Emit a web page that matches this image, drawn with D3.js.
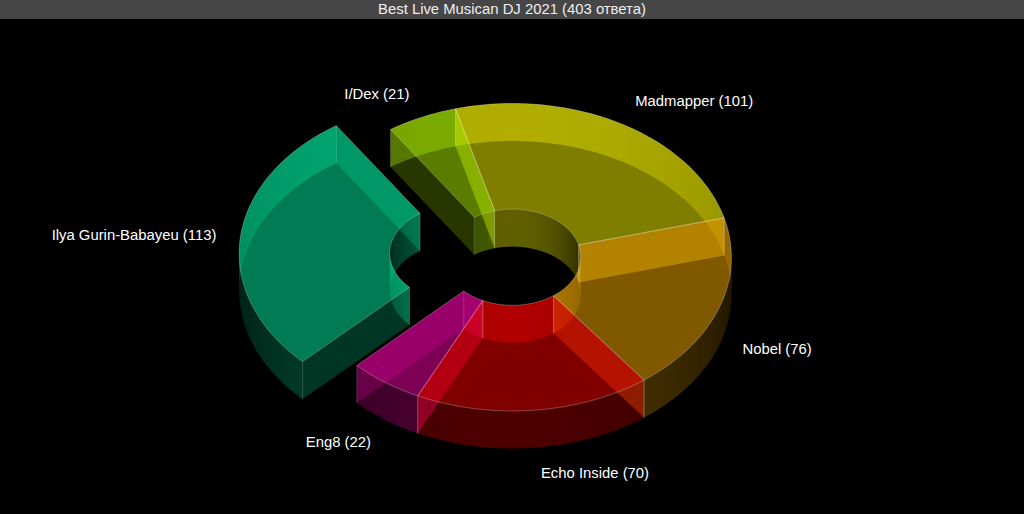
<!DOCTYPE html>
<html><head><meta charset="utf-8">
<script src="https://cdn.jsdelivr.net/npm/d3@7"></script>
<style>html,body{margin:0;padding:0;background:#000;overflow:hidden}
text{font-family:"Liberation Sans",Arial,sans-serif;font-size:14.85px;fill:#fff}</style>
</head><body><svg id="c" width="1024" height="514"></svg>
<script>
const chartTitle = "Best Live Musican DJ 2021 (403 ответа)";
const categories = ["I/Dex","Madmapper","Nobel","Echo Inside","Eng8","Ilya Gurin-Babayeu"];
const values = [21,101,76,70,22,113];
const hues = ["rgb(180,250,0)","rgb(255,252,0)","rgb(255,176,0)","rgb(255,0,0)","rgb(250,0,170)","rgb(0,245,165)"];
const exploded = [0,0,0,0,0,1];

const W=1024,H=514,cx=512.4,cy=257.2,R=219,r0=68.5,tilt=0.702,depth=37.5,pull=54.5;
const deg=Math.PI/180;
const svg=d3.select("#c"),defs=svg.append("defs");
svg.append("rect").attr("width",W).attr("height",H).attr("fill","#000");

const xs=d3.scaleLinear().domain([-1,1]).range([cx-1,cx+1]);
const ys=d3.scaleLinear().domain([-1,1]).range([cy-tilt,cy+tilt]);
const pt=(r,a,z=0)=>[xs(r*Math.sin(a)),ys(-r*Math.cos(a))+z];
const line=d3.line();
const arcPts=(r,a,b,z=0)=>{const n=Math.max(2,Math.ceil(Math.abs(b-a)/(1*deg)));
  return d3.range(n+1).map(i=>pt(r,a+(b-a)*i/n,z));};

const arcs=d3.pie().sort(null).startAngle(-33.8*deg).endAngle(326.2*deg)(values);
const alphaAt=(s,scale)=>scale*(0.17+0.21*Math.pow(Math.max(0,1-s*s),0.75));

function grad(i,r,scale,tag){
  const id=`g${i}${tag}`;
  const g=defs.append("linearGradient").attr("id",id).attr("gradientUnits","userSpaceOnUse")
    .attr("x1",cx-r).attr("x2",cx+r).attr("y1",0).attr("y2",0);
  d3.range(21).forEach(k=>{const s=-1+k/10;
    g.append("stop").attr("offset",k/20).attr("stop-color",hues[i]).attr("stop-opacity",alphaAt(s,scale));});
  return `url(#${id})`;
}
const layers={back:svg.append("g"),front:svg.append("g"),top:svg.append("g"),edge:svg.append("g")};
const shift=d=>{const m=(d.startAngle+d.endAngle)/2,e=exploded[d.index]*pull;
  return `translate(${e*Math.sin(m)},${-e*tilt*Math.cos(m)})`;};
const wall=(pts)=>line(pts.concat(pts.slice().reverse().map(p=>[p[0],p[1]+depth])))+"Z";

arcs.forEach(d=>{
  const i=d.index,a0=d.startAngle,a1=d.endAngle,t=shift(d);
  const cuts=[a0,...[90*deg,270*deg].filter(c=>c>a0&&c<a1),a1];
  d3.pairs(cuts).forEach(([a,b])=>{
    const m=(a+b)/2,farSide=Math.cos(m)>0;
    layers[farSide?"back":"front"].append("path").attr("transform",t)
      .attr("d",wall(arcPts(R,a,b))).attr("fill",grad(i,R,farSide?1:0.8,`o${farSide?1:0}`+Math.round(a*100)));
    layers[farSide?"front":"back"].append("path").attr("transform",t)
      .attr("d",wall(arcPts(r0,a,b))).attr("fill",grad(i,r0,1,`i${farSide?1:0}`+Math.round(a*100)));
  });
  [[a0,-1],[a1,1]].forEach(([a,sgn])=>{
    const facing=sgn*Math.sin(a)>0;
    layers[facing?"front":"back"].append("path").attr("transform",t)
      .attr("d",wall([pt(r0,a),pt(R,a)])).attr("fill",hues[i]).attr("fill-opacity",facing?0.22:0.235);
    [r0,R].forEach(r=>{const p=pt(r,a);
      layers.edge.append("path").attr("transform",t).attr("d",line([p,[p[0],p[1]+depth]]))
        .attr("fill","none").attr("stroke","#fff").attr("stroke-opacity",0.17);});
  });
  const ring=arcPts(R,a0,a1).concat(arcPts(r0,a1,a0));
  layers.top.append("path").attr("transform",t).attr("d",line(ring)+"Z")
    .attr("fill",hues[i]).attr("fill-opacity",0.5)
    .attr("stroke","#fff").attr("stroke-opacity",0.27).attr("stroke-width",1);
});

const labelGap=25,labelLift=26;
const nudges=[[-2,0.5],[0.5,-1],[-0.5,-5],[4.5,-1],[0,1],[1,0]];
const lab=svg.append("g");
arcs.forEach(d=>{
  const m=(d.startAngle+d.endAngle)/2,e=exploded[d.index]*pull+R;
  const p=pt(e,m,Math.cos(m)<0?depth:0),n=nudges[d.index];
  lab.append("text").attr("x",p[0]+labelGap*Math.sin(m)+n[0])
    .attr("y",p[1]-labelLift*Math.cos(m)+n[1]+5)
    .attr("text-anchor",Math.sin(m)>0?"start":"end")
    .text(`${categories[d.index]} (${d.value})`);
});

svg.append("rect").attr("width",W).attr("height",19).attr("fill","#464646");
svg.append("text").attr("x",W/2).attr("y",14).attr("text-anchor","middle").style("fill","#eee").text(chartTitle);
</script></body></html>
